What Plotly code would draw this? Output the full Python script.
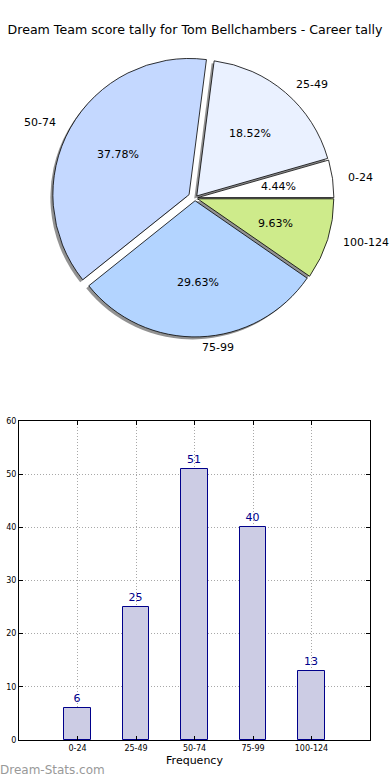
import math
import plotly.graph_objects as go

title_text = "Dream Team score tally for Tom Bellchambers - Career tally"
categories = ["0-24", "25-49", "50-74", "75-99", "100-124"]
counts = [6, 25, 51, 40, 13]
pie_colors = ["#FFFFFF", "#EAF1FF", "#C4D8FF", "#B3D4FF", "#CEEB8B"]
pulls = [0.02, 0.02, 0.05, 0.02, 0.02]
y_ticks = [0, 10, 20, 30, 40, 50, 60]

W, H = 390, 780
FONT = "DejaVu Sans"

# pie geometry (pixels)
cx, cy = 195, 198
half = 143
max_pull = max(pulls)
r = half / (1 + max_pull)
dom_x = [(cx - half) / W, (cx + half) / W]
dom_y = [1 - (cy + half) / H, 1 - (cy - half) / H]
sh = 2.5  # shadow offset px
dom_x_sh = [(cx - sh - half) / W, (cx - sh + half) / W]
dom_y_sh = [1 - (cy + sh + half) / H, 1 - (cy + sh - half) / H]

total = sum(counts)
rot = 90 - 360 * counts[0] / total

fig = go.Figure()

fig.add_trace(go.Pie(
    labels=categories, values=counts, sort=False, direction="counterclockwise",
    rotation=rot, pull=pulls, domain=dict(x=dom_x_sh, y=dom_y_sh),
    marker=dict(colors=["rgba(110,110,110,0.75)"] * len(counts), line=dict(width=0)),
    textinfo="none", hoverinfo="skip", showlegend=False, automargin=False,
))
fig.add_trace(go.Pie(
    labels=categories, values=counts, sort=False, direction="counterclockwise",
    rotation=rot, pull=pulls, domain=dict(x=dom_x, y=dom_y),
    marker=dict(colors=pie_colors, line=dict(color="black", width=0.8)),
    textinfo="none", showlegend=False, automargin=False,
))

annotations = []
cum = 0.0
for lab, v, p in zip(categories, counts, pulls):
    frac = v / total
    mid = 2 * math.pi * (cum + frac / 2)
    cum += frac
    ox = p * r * math.cos(mid)
    oy = p * r * math.sin(mid)
    lx = cx + ox + 1.1 * r * math.cos(mid)
    ly = cy - oy - 1.08 * r * math.sin(mid)
    annotations.append(dict(
        x=lx / W, y=1 - ly / H, xref="paper", yref="paper", text=lab, showarrow=False,
        xanchor="left" if math.cos(mid) > 0 else "right", yanchor="middle",
        font=dict(family=FONT, size=11, color="black")))
    px = cx + ox + 0.6 * r * math.cos(mid)
    py = cy - oy - 0.6 * r * math.sin(mid)
    annotations.append(dict(
        x=px / W, y=1 - py / H, xref="paper", yref="paper", text=f"{100 * frac:.2f}%",
        showarrow=False, xanchor="center", yanchor="middle",
        font=dict(family=FONT, size=11, color="black")))

annotations.append(dict(
    x=0, y=1 - 770 / H, xref="paper", yref="paper", text="Dream-Stats.com",
    showarrow=False, xanchor="left", yanchor="middle", xshift=-2,
    font=dict(family=FONT, size=12, color="#999999")))

fig.add_trace(go.Bar(
    x=categories, y=counts, width=0.45,
    marker=dict(color="#CCCCE4", line=dict(color="#00008B", width=1)),
    text=[str(c) for c in counts], textposition="outside",
    textfont=dict(family=FONT, size=11, color="#00008B"),
    cliponaxis=False, showlegend=False, xaxis="x", yaxis="y",
))

grid = dict(showgrid=True, gridcolor="#A8A8A8", griddash="1px,2px", gridwidth=1)

fig.update_layout(
    width=W, height=H, autosize=False,
    margin=dict(l=0, r=0, t=0, b=0, pad=0, autoexpand=False),
    paper_bgcolor="white", plot_bgcolor="white",
    font=dict(family=FONT, color="black"),
    title=dict(text=title_text, x=0.5, xanchor="center", y=1 - 30 / H, yanchor="middle",
               font=dict(family=FONT, size=12.6, color="black"), automargin=False),
    annotations=annotations,
    xaxis=dict(domain=[19 / W, 370 / W], range=[-1, 5], type="category", automargin=False,
               showline=True, linecolor="black", linewidth=1, mirror="ticks",
               ticks="inside", ticklen=4, tickcolor="black",
               tickfont=dict(family=FONT, size=8, color="black"),
               title=dict(text="Frequency", font=dict(family=FONT, size=11, color="black"), standoff=4),
               zeroline=False, **grid),
    yaxis=dict(domain=[1 - 740 / H, 1 - 421 / H], range=[0, 60], tickvals=y_ticks, automargin=False,
               showline=True, linecolor="black", linewidth=1, mirror="ticks",
               ticks="inside", ticklen=4, tickcolor="black",
               tickfont=dict(family=FONT, size=8, color="black"), zeroline=False, **grid),
    bargap=0,
)

fig.write_html("out.html", config={"displayModeBar": False},
               post_script="document.body.style.margin='0';document.body.style.overflow='hidden';")
